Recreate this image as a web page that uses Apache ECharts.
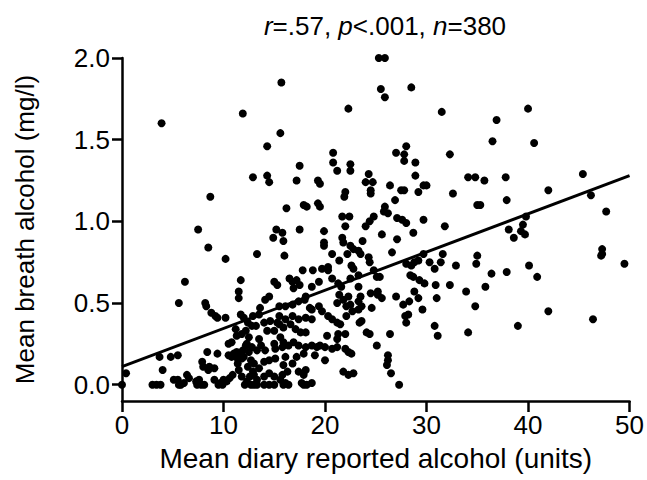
<!DOCTYPE html>
<html>
<head>
<meta charset="utf-8">
<title>Breath alcohol vs diary alcohol</title>
<script src="https://cdn.jsdelivr.net/npm/echarts@6/dist/echarts.min.js"></script>
<style>
  html, body { margin: 0; padding: 0; background: #fff; }
  #chart { width: 647px; height: 480px; }
</style>
</head>
<body>
<div id="chart"></div>
<script>
// [mean diary units, mean breath alcohol mg/l], grouped by area of the plot
const leftCluster = [
  [0.0, 0.00], [0.4, 0.07], [3.0, 0.00], [3.4, 0.00], [3.8, 0.00], [3.7, 0.17], [4.0, 0.09], [3.9, 1.60],
  [4.8, 0.17], [5.1, 0.03], [5.5, 0.03], [5.5, 0.18], [5.6, 0.00], [5.8, 0.00], [5.6, 0.50], [6.1, 0.01],
  [6.2, 0.63], [6.4, 0.06], [6.6, 0.04], [7.3, 0.02], [7.4, 0.00], [7.5, 0.95], [7.6, 0.03], [7.8, 0.00],
  [7.9, 0.14], [8.0, 0.11], [8.1, 0.00], [8.2, 0.50], [8.3, 0.48], [8.4, 0.20], [8.5, 0.09], [8.5, 0.84],
  [8.6, 0.11], [8.7, 1.15], [8.8, 0.44], [9.1, 0.03], [9.1, 0.10], [9.2, 0.42], [9.4, 0.41], [9.4, 0.19],
  [9.5, 0.00], [9.7, 0.01], [9.9, 0.00], [10.0, 0.03], [10.2, 0.41], [10.2, 0.77], [10.3, 0.02], [10.5, 0.18],
  [10.5, 0.25], [10.6, 0.04], [10.8, 0.17], [10.8, 0.26], [10.9, 0.06], [11.0, 0.19], [11.2, 0.34], [11.3, 0.20],
  [11.3, 0.30], [11.4, 0.16], [11.4, 0.13], [11.5, 0.09], [11.5, 0.19], [11.5, 0.53], [11.5, 0.57], [11.7, 0.43],
  [11.7, 0.64], [11.8, 0.05], [11.8, 0.16], [11.8, 0.31], [11.9, 0.21], [11.9, 1.66], [12.0, 0.17], [12.0, 0.41],
  [12.1, 0.00], [12.2, 0.24], [12.2, 0.33], [12.3, 0.02], [12.3, 0.25], [12.4, 0.11], [12.4, 0.38], [12.5, 0.20],
  [12.5, 0.29], [12.6, 0.05], [12.7, 0.00], [12.7, 0.15], [12.8, 0.23], [12.8, 0.36], [12.9, 0.08], [12.9, 0.42],
  [12.9, 1.27]
]

const midCluster = [
  [13.0, 0.00], [13.0, 0.06], [13.0, 0.13], [13.2, 0.36], [13.3, 0.00], [13.3, 0.03], [13.3, 0.21], [13.3, 0.80],
  [13.5, 0.10], [13.5, 0.28], [13.5, 0.43], [13.6, 0.47], [13.7, 0.24], [14.0, 0.00], [14.0, 0.05], [14.0, 0.14],
  [14.0, 0.38], [14.1, 0.21], [14.1, 0.52], [14.3, 0.33], [14.3, 1.28], [14.3, 1.46], [14.5, 0.00], [14.5, 0.07],
  [14.5, 0.15], [14.5, 0.54], [14.5, 1.24], [14.6, 0.39], [14.9, 0.90], [15.0, 0.00], [15.0, 0.05], [15.0, 0.25],
  [15.0, 0.33], [15.0, 0.63], [15.1, 0.16], [15.1, 0.22], [15.2, 0.95], [15.3, 0.38], [15.3, 0.61]
]

const centreCluster = [
  [21.7, 1.03], [22.4, 1.03], [22.0, 0.97], [24.0, 0.97], [24.4, 1.00], [24.8, 1.03], [25.8, 1.06], [26.2, 1.05],
  [27.1, 1.02], [27.6, 1.01], [28.0, 0.99], [29.7, 1.01], [31.8, 0.97],
  [15.8, 0.93], [15.9, 0.88], [17.5, 0.95], [19.9, 0.94], [21.7, 0.90], [21.8, 0.87], [19.9, 0.87], [19.9, 0.85],
  [23.7, 0.88], [25.6, 0.92], [27.1, 0.89], [28.7, 0.93],
  [16.0, 0.79], [20.7, 0.80], [22.5, 0.85], [22.8, 0.83], [23.3, 0.82], [23.5, 0.80], [24.3, 0.78], [24.4, 0.75],
  [21.4, 0.76], [22.2, 0.80], [26.6, 0.81],
  [28.0, 0.74], [28.5, 0.73], [28.8, 0.75], [29.2, 0.76], [29.7, 0.80], [30.3, 0.75], [30.8, 0.71], [31.4, 0.75],
  [31.6, 0.80], [32.9, 0.73],
  [28.4, 0.67], [28.7, 0.66], [29.3, 0.64], [29.8, 0.62], [30.9, 0.61], [32.3, 0.61],
  [19.7, 0.71], [20.3, 0.72], [20.3, 0.70], [17.8, 0.70], [18.8, 0.70], [19.4, 0.63], [18.7, 0.60], [22.6, 0.73],
  [22.8, 0.71], [24.8, 0.70],
  [16.5, 0.65], [16.8, 0.63], [17.2, 0.64], [17.5, 0.61], [16.9, 0.59], [20.7, 0.65], [21.3, 0.62], [21.6, 0.60],
  [22.5, 0.65], [23.3, 0.67], [25.1, 0.66], [25.4, 0.66], [23.3, 0.60],
  [24.5, 0.56], [25.2, 0.55], [25.6, 0.53], [25.2, 0.57], [24.6, 0.47], [23.5, 0.54], [23.3, 0.51], [23.6, 0.48],
  [23.3, 0.46], [22.7, 0.45], [22.1, 0.42],
  [22.3, 0.54], [21.8, 0.52], [21.4, 0.55], [21.2, 0.50], [22.1, 0.48], [22.5, 0.49], [18.1, 0.54],
  [27.0, 0.54], [27.7, 0.49], [28.3, 0.51], [29.2, 0.53], [28.8, 0.57], [29.6, 0.46], [31.0, 0.53],
  [27.9, 0.42], [28.2, 0.43], [28.0, 0.38], [30.8, 0.36], [31.1, 0.30],
  [15.5, 0.48], [16.1, 0.48], [16.8, 0.49], [17.4, 0.51], [18.0, 0.52], [18.5, 0.47], [18.7, 0.46], [19.4, 0.48],
  [19.7, 0.45], [20.3, 0.42], [20.7, 0.40], [21.2, 0.38], [21.5, 0.37], [23.6, 0.39], [23.4, 0.38],
  [15.5, 0.42], [16.1, 0.40], [16.8, 0.42], [17.4, 0.40], [18.1, 0.41], [18.7, 0.40],
  [15.5, 0.37], [15.9, 0.35], [16.6, 0.37], [17.1, 0.34], [17.6, 0.32], [18.1, 0.32],
  [20.2, 0.30], [21.2, 0.28], [21.3, 0.31], [22.0, 0.31], [24.1, 0.32], [24.4, 0.31], [25.1, 0.24], [26.4, 0.31],
  [15.6, 0.29], [15.9, 0.26], [15.8, 0.23], [16.4, 0.24], [16.9, 0.26], [17.4, 0.24],
  [18.1, 0.23], [18.7, 0.24], [19.2, 0.23], [19.5, 0.24], [20.0, 0.23], [20.7, 0.22], [21.2, 0.23], [22.0, 0.22],
  [22.3, 0.20], [22.6, 0.19],
  [19.0, 0.18], [20.0, 0.15], [16.1, 0.17], [16.8, 0.13], [17.2, 0.17], [17.9, 0.19],
  [15.9, 0.12], [16.3, 0.08], [15.8, 0.06], [15.6, 0.03], [16.1, 0.01], [15.9, 0.00], [16.4, 0.00],
  [17.4, 0.08], [17.9, 0.06], [18.1, 0.09], [17.7, 0.01], [18.7, 0.01], [17.9, 0.00], [18.2, 0.00],
  [21.8, 0.08], [22.3, 0.06], [22.8, 0.07],
  [26.2, 0.18], [26.2, 0.15], [26.1, 0.12], [26.5, 0.07], [27.3, 0.00]
]

const upperRight = [
  [15.7, 1.85], [15.6, 1.54], [16.2, 1.08], [17.2, 1.25], [17.5, 1.34], [17.9, 1.10], [18.2, 1.09], [19.3, 1.25],
  [19.5, 1.23], [19.3, 1.11], [19.5, 1.09], [20.8, 1.42], [20.8, 1.36], [21.2, 1.31], [21.9, 1.15], [22.0, 1.18],
  [22.3, 1.69], [22.5, 1.35], [22.5, 1.31], [24.0, 1.24], [24.3, 1.29], [24.5, 1.17], [24.5, 1.19], [24.7, 1.24],
  [25.3, 2.00], [25.5, 1.81], [25.9, 1.76], [25.9, 2.00], [25.9, 1.09], [26.4, 1.22], [26.9, 1.13], [27.0, 1.42],
  [27.5, 1.19], [27.8, 1.19], [27.8, 1.37], [27.8, 1.41], [28.0, 1.46], [28.5, 1.82], [28.9, 1.28], [28.9, 1.36],
  [29.2, 1.18], [29.7, 1.22], [30.0, 1.22], [31.5, 1.67], [32.3, 1.41], [32.6, 1.17],
  [33.9, 0.57], [34.1, 0.32], [34.1, 1.27], [34.8, 0.48], [34.8, 1.27], [34.9, 0.74], [35.0, 0.79], [35.0, 1.10],
  [35.3, 1.10], [35.7, 1.25], [35.8, 0.60], [36.4, 0.68], [36.5, 1.49], [36.9, 1.62], [37.8, 1.27], [37.9, 1.13],
  [37.9, 0.69], [38.1, 0.95], [38.6, 0.90], [39.0, 0.36], [39.3, 0.94], [39.5, 0.98], [39.7, 0.92], [39.8, 1.03],
  [40.0, 1.69], [40.1, 0.73], [40.6, 1.48], [40.9, 0.66], [42.0, 1.19], [42.0, 0.45], [45.4, 1.29], [46.2, 1.16],
  [46.4, 0.40], [47.2, 0.79], [47.3, 0.80], [47.3, 0.83], [47.7, 1.06], [49.5, 0.74]
]

// regression line, read at both ends of the x axis
const fitX = [0, 50]
const fitY = [0.11, 1.28]

const yTicks = [0, 0.5, 1, 1.5, 2]

const allPoints = leftCluster.concat(midCluster, centreCluster, upperRight)
const fitLine = fitX.map((x, i) => [x, fitY[i]])

const font = '"Liberation Sans", Arial, sans-serif'
const ink = '#000'

const chart = echarts.init(document.getElementById('chart'), null, { renderer: 'svg' })

chart.setOption({
  animation: false,
  title: {
    text: '{i|r}=.57, {i|p}<.001, {i|n}=380',
    left: 380,
    top: 8,
    textAlign: 'center',
    textStyle: {
      fontFamily: font,
      fontSize: 26,
      fontWeight: 'normal',
      color: ink,
      rich: {
        i: { fontFamily: font, fontSize: 26, fontStyle: 'italic', color: ink }
      }
    }
  },
  grid: { left: 122, right: 14, top: 58, bottom: 79 },
  xAxis: {
    type: 'value',
    min: 0,
    max: 50,
    interval: 10,
    name: 'Mean diary reported alcohol (units)',
    nameLocation: 'middle',
    nameGap: 43,
    nameTextStyle: { fontFamily: font, fontSize: 28, color: ink },
    axisLine: { show: true, onZero: false, lineStyle: { color: ink, width: 2.5 } },
    axisTick: { show: true, length: 11, lineStyle: { color: ink, width: 2.5 } },
    axisLabel: { margin: 11, fontFamily: font, fontSize: 26, color: ink },
    splitLine: { show: false }
  },
  yAxis: {
    type: 'value',
    min: -0.1,
    max: 2,
    name: 'Mean breath alcohol (mg/l)',
    nameLocation: 'middle',
    nameGap: 84,
    nameTextStyle: { fontFamily: font, fontSize: 26, color: ink },
    axisLine: { show: true, lineStyle: { color: ink, width: 2.5 } },
    axisTick: { show: true, customValues: yTicks, length: 10, lineStyle: { color: ink, width: 2.5 } },
    axisLabel: {
      customValues: yTicks,
      margin: 12,
      fontFamily: font,
      fontSize: 26,
      color: ink,
      formatter: v => v.toFixed(1)
    },
    splitLine: { show: false }
  },
  series: [
    {
      type: 'scatter',
      data: allPoints,
      symbolSize: 8,
      itemStyle: { color: ink, opacity: 1 }
    },
    {
      type: 'line',
      data: fitLine,
      symbol: 'none',
      lineStyle: { color: ink, width: 3 }
    }
  ]
})
</script>
</body>
</html>
